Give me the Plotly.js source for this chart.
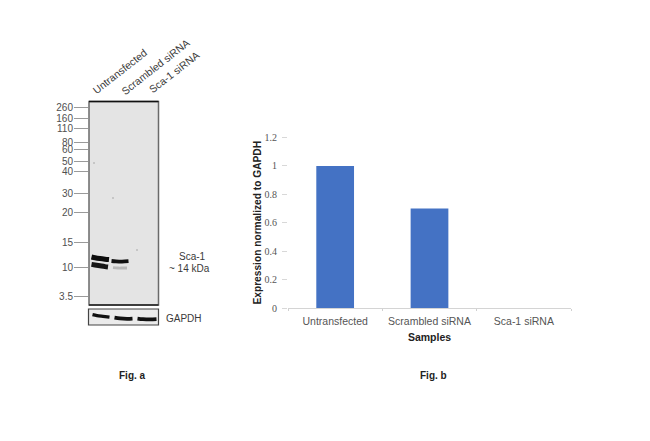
<!DOCTYPE html>
<html>
<head>
<meta charset="utf-8">
<script src="https://cdn.plot.ly/plotly-3.0.1.min.js"></script>
<style>html,body{margin:0;padding:0;background:#fff}#c{width:650px;height:441px}</style>
</head>
<body>
<div id="c"></div>
<script>
// Fig. b data
const samples = ["Untransfected", "Scrambled siRNA", "Sca-1 siRNA"];
const expression = [1, 0.7, 0];

// Fig. a: marker ladder, positions are migration distance (px-like units on the blot axis)
const ladderLabels = ["260","160","110","80","60","50","40","30","20","15","10","3.5"];
const ladderPos = [107,118,128,142,149,161,171,193,212,242,267,296];

// Fig. a: Sca-1 bands [lane position, migration]
const bandUpperUntransX = [91.5,95,100,105,109];
const bandUpperUntransY = [257,257.8,258.6,259.2,259.6];
const bandLowerUntransX = [91.5,95,100,105,108];
const bandLowerUntransY = [264.4,265,265.8,266.6,267];
const bandUpperScramX = [111.5,116,122,128.5];
const bandUpperScramY = [261,261.4,261.6,261.2];
const bandLowerScramX = [113,118,123,127];
const bandLowerScramY = [267.6,268,268,268];

// Fig. a: GAPDH bands
const gapdh1X = [92.5,97,103,109.5];
const gapdh1Y = [314.6,315.6,316.4,317.2];
const gapdh2X = [114.5,120,127,132.5];
const gapdh2Y = [317.6,318.4,318.8,318.6];
const gapdh3X = [137.5,143,150,156.5];
const gapdh3Y = [318.6,319.2,319.4,319.2];

// Fig. a: faint specks on the membrane
const specksX = [94, 113, 137];
const specksY = [163, 198, 250];

const W = 650, H = 441;
const px = x => x / W;
const py = y => 1 - y / H;
const FONT = '"Liberation Sans", Arial, sans-serif';

function band(xs, ys, xa, ya, width, color) {
  return {type:'scatter', mode:'lines', x:xs, y:ys, xaxis:xa, yaxis:ya,
    line:{color:color, width:width, shape:'spline'}, hoverinfo:'skip', showlegend:false};
}

const traces = [
  {type:'bar', x:samples, y:expression, marker:{color:'#4472c4'}, width:0.4, xaxis:'x', yaxis:'y', showlegend:false},
  band(bandUpperUntransX, bandUpperUntransY, 'x2','y2',5,'#0c0c0c'),
  band(bandLowerUntransX, bandLowerUntransY, 'x2','y2',5,'#161616'),
  band(bandUpperScramX, bandUpperScramY, 'x2','y2',3.8,'#111111'),
  band(bandLowerScramX, bandLowerScramY, 'x2','y2',2.8,'#b8b8b8'),
  band(gapdh1X, gapdh1Y, 'x3','y3',3.2,'#111111'),
  band(gapdh2X, gapdh2Y, 'x3','y3',3.8,'#111111'),
  band(gapdh3X, gapdh3Y, 'x3','y3',3.8,'#111111'),
  {type:'scatter', mode:'markers', x:specksX, y:specksY, xaxis:'x2', yaxis:'y2',
    marker:{size:1.5, color:'#9a9a9a'}, hoverinfo:'skip', showlegend:false}
];

function ann(text, x, y, o) {
  return Object.assign({text:text, x:px(x), y:py(y), xref:'paper', yref:'paper',
    xanchor:'center', yanchor:'middle', showarrow:false,
    font:{family:FONT, size:10, color:'#3a3a3a'}}, o || {});
}

const layout = {
  width:W, height:H, margin:{l:0,r:0,t:0,b:0}, paper_bgcolor:'#ffffff', plot_bgcolor:'#ffffff',
  showlegend:false, bargap:0.6,
  xaxis:{domain:[px(288),px(571)], anchor:'y', type:'category', tickson:'boundaries', ticks:'outside', ticklen:2,
    tickcolor:'#d0d0d0', showline:true, linecolor:'#d4d4d4', linewidth:1, showgrid:false, zeroline:false,
    ticklabelstandoff:3,
    tickfont:{family:FONT, size:10.5, color:'#555555'},
    title:{text:'Samples', standoff:8, font:{family:FONT, size:10.5, color:'#222222', weight:'bold'}}},
  yaxis:{domain:[py(308),py(137.5)], anchor:'x', range:[0,1.2], tickvals:[0,0.2,0.4,0.6,0.8,1,1.2],
    ticktext:['0','0.2','0.4','0.6','0.8','1','1.2'], ticks:'outside', ticklen:5, tickcolor:'#d8d8d8',
    showline:false, showgrid:false, zeroline:false, ticklabelstandoff:3,
    tickfont:{family:'"Liberation Serif", serif', size:10, color:'#555555'},
    title:{text:'Expression normalized to GAPDH', standoff:0, font:{family:FONT, size:10.2, color:'#222222', weight:'bold'}}},
  xaxis2:{domain:[px(89),px(158.5)], anchor:'y2', range:[89,158.5], showticklabels:false, ticks:'', showgrid:false, zeroline:false},
  yaxis2:{domain:[py(305),py(101.5)], anchor:'x2', range:[305,101.5], tickvals:ladderPos, ticktext:ladderLabels,
    ticks:'outside', ticklen:14, tickcolor:'#9a9a9a', tickwidth:1, showgrid:false, zeroline:false, showline:false,
    ticklabelstandoff:-1,
    tickfont:{family:FONT, size:10, color:'#505050'}},
  xaxis3:{domain:[px(88.5),px(158.5)], anchor:'y3', range:[88.5,158.5], showticklabels:false, ticks:'', showgrid:false, zeroline:false},
  yaxis3:{domain:[py(325),py(309)], anchor:'x3', range:[325,309], showticklabels:false, ticks:'', showgrid:false, zeroline:false},
  shapes:[
    {type:'rect', layer:'below', xref:'x2 domain', yref:'y2 domain', x0:0,x1:1,y0:0,y1:1, fillcolor:'#e4e4e4', line:{color:'#6a6a6a', width:1.5}},
    {type:'line', xref:'x2 domain', yref:'y2 domain', x0:0,x1:1,y0:1,y1:1, line:{color:'#111111', width:1.5}},
    {type:'line', xref:'x2 domain', yref:'y2 domain', x0:0,x1:1,y0:0,y1:0, line:{color:'#222222', width:1.5}},
    {type:'rect', layer:'below', xref:'x3 domain', yref:'y3 domain', x0:0,x1:1,y0:0,y1:1, fillcolor:'#ebebeb', line:{color:'#444444', width:1.2}}
  ],
  annotations:[
    ann('Untransfected',120,71,{textangle:-38, font:{family:FONT,size:10.5,color:'#3a3a3a'}}),
    ann('Scrambled siRNA',155,67,{textangle:-38, font:{family:FONT,size:10.5,color:'#3a3a3a'}}),
    ann('Sca-1 siRNA',174,72,{textangle:-38, font:{family:FONT,size:10.5,color:'#3a3a3a'}}),
    ann('Sca-1',193,256),
    ann('~ 14 kDa',189,268),
    ann('GAPDH',184,318),
    ann('<b>Fig. a</b>',132,375,{font:{family:FONT,size:10,color:'#222222'}}),
    ann('<b>Fig. b</b>',433,375.5,{font:{family:FONT,size:10,color:'#222222'}})
  ]
};
Plotly.newPlot('c', traces, layout, {staticPlot:true, displayModeBar:false});
</script>
</body>
</html>
